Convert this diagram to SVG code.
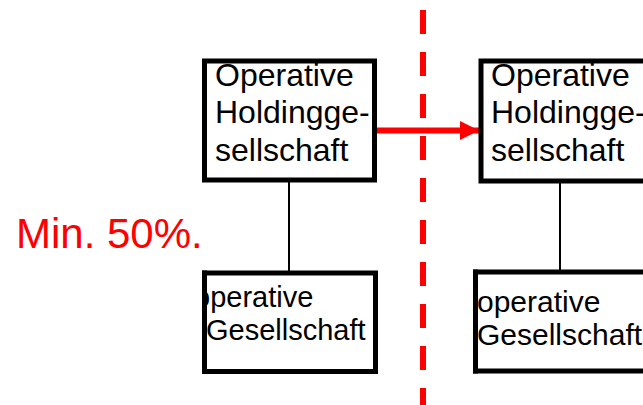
<svg xmlns="http://www.w3.org/2000/svg" width="643" height="405" viewBox="0 0 643 405">
  <defs>
    <style>
      .box { fill: #fff; stroke: #000; stroke-width: 5; }
      .link { stroke: #000; stroke-width: 2; fill: none; }
      .label { font-family: "Liberation Sans", Arial, sans-serif; fill: #000; }
      .big { font-size: 32px; }
      .small { font-size: 29px; }
      .small-r { font-size: 30px; }
      .red { font-family: "Liberation Sans", Arial, sans-serif; font-size: 42px; fill: #ff0000; }
    </style>
    <marker id="arrowhead" markerWidth="3.2" markerHeight="3.2" refX="3.2" refY="1.6" orient="auto" markerUnits="strokeWidth">
      <path d="M0,0 L3.2,1.6 L0,3.2 Z" fill="#ff0000"/>
    </marker>
    <clipPath id="clipLeftBottom">
      <rect x="202" y="270" width="176" height="104"/>
    </clipPath>
    <clipPath id="clipRightBottom">
      <rect x="473" y="269" width="200" height="104"/>
    </clipPath>
  </defs>

  <!-- dividing line -->
  <line x1="423" y1="10" x2="423" y2="405" stroke="#ff0000" stroke-width="6" stroke-dasharray="24 18"/>

  <!-- connectors -->
  <g id="connectors">
    <line class="link" x1="289" y1="181" x2="289" y2="272"/>
    <line class="link" x1="560" y1="181" x2="560" y2="271"/>
    <line x1="360" y1="130.5" x2="479" y2="130.5" stroke="#ff0000" stroke-width="6" marker-end="url(#arrowhead)"/>
  </g>

  <!-- holding before -->
  <g id="holding-left">
    <rect class="box" x="204.5" y="61" width="170" height="119"/>
    <text class="label big">
      <tspan x="215" y="86">Operative</tspan>
      <tspan x="215" y="123">Holdingge-</tspan>
      <tspan x="215" y="160.5">sellschaft</tspan>
    </text>
  </g>

  <!-- holding after -->
  <g id="holding-right">
    <rect class="box" x="481" y="61" width="180" height="120"/>
    <text class="label big">
      <tspan x="491" y="86">Operative</tspan>
      <tspan x="491" y="123">Holdingge-</tspan>
      <tspan x="491" y="160.5">sellschaft</tspan>
    </text>
  </g>

  <!-- subsidiary before -->
  <g id="subsidiary-left">
    <rect class="box" x="204.5" y="273" width="171" height="98.5"/>
    <text class="label small" clip-path="url(#clipLeftBottom)">
      <tspan x="194" y="306.5">operative</tspan>
      <tspan x="206" y="340">Gesellschaft</tspan>
    </text>
    <line x1="204.5" y1="270.5" x2="204.5" y2="374" stroke="#000" stroke-width="5"/>
  </g>

  <!-- subsidiary after -->
  <g id="subsidiary-right">
    <rect class="box" x="475.5" y="272" width="190" height="99"/>
    <text class="label small-r" clip-path="url(#clipRightBottom)">
      <tspan x="477" y="312">operative</tspan>
      <tspan x="477" y="345">Gesellschaft</tspan>
    </text>
    <line x1="475.5" y1="269.5" x2="475.5" y2="373.5" stroke="#000" stroke-width="5"/>
  </g>

  <text class="red" x="16" y="248">Min. 50%.</text>
</svg>
